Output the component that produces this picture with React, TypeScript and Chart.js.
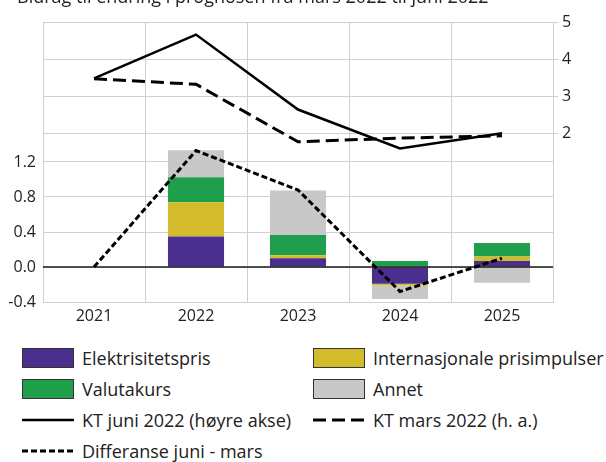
import React, { useEffect, useRef } from 'react';
import { Chart, registerables } from 'chart.js';

Chart.register(...registerables);

const TITLE = 'Bidrag til endring i prognosen fra mars 2022 til juni 2022';
const categories = ['2021', '2022', '2023', '2024', '2025'];
const elektrisitetspris = [null, 0.35, 0.1, -0.19, 0.07];
const internasjonale = [null, 0.39, 0.035, -0.022, 0.05];
const valutakurs = [null, 0.285, 0.23, 0.07, 0.155];
const annet = [null, 0.31, 0.51, -0.155, -0.18];
const ktJuni = [3.48, 4.66, 2.64, 1.59, 2.0];
const ktMars = [3.47, 3.32, 1.77, 1.87, 1.93];
const differanse = [0, 1.33, 0.88, -0.28, 0.1];
const leftTicks = [-0.4, 0, 0.4, 0.8, 1.2];
const rightTicks = [2, 3, 4, 5];

const PURPLE = '#4a2f8e';
const YELLOW = '#d3bb2b';
const GREEN = '#1f9e4c';
const GREY = '#c8c8c8';
const GRID = '#d0d0d0';
const TEXT = '#222222';
const FONT = "'Open Sans', sans-serif";

const zeroLinePlugin = {
  id: 'zeroLine',
  afterDatasetDraw(chart: any, args: any) {
    if (args.index !== 3) return;
    const y = chart.scales.y.getPixelForValue(0);
    const { left, right } = chart.chartArea;
    const ctx = chart.ctx;
    ctx.save();
    ctx.strokeStyle = '#1a1a1a';
    ctx.lineWidth = 1.5;
    ctx.beginPath();
    ctx.moveTo(left, y);
    ctx.lineTo(right, y);
    ctx.stroke();
    ctx.restore();
  },
};

function ChartCanvas() {
  const ref = useRef<HTMLCanvasElement | null>(null);
  useEffect(() => {
    if (!ref.current) return;
    const font = { family: FONT, size: 16 };
    const chart = new Chart(ref.current, {
      type: 'bar',
      data: {
        labels: categories,
        datasets: [
          {
            type: 'line',
            label: 'KT juni 2022 (høyre akse)',
            data: ktJuni,
            yAxisID: 'y1',
            borderColor: '#000',
            borderWidth: 2.5,
            pointRadius: 0,
            tension: 0,
            order: 0,
          },
          {
            type: 'line',
            label: 'KT mars 2022 (h. a.)',
            data: ktMars,
            yAxisID: 'y1',
            borderColor: '#000',
            borderWidth: 3,
            borderDash: [13, 6],
            pointRadius: 0,
            tension: 0,
            order: 0,
          },
          {
            type: 'line',
            label: 'Differanse juni - mars',
            data: differanse,
            yAxisID: 'y',
            stack: 'diff',
            borderColor: '#000',
            borderWidth: 3,
            borderDash: [6, 3],
            pointRadius: 0,
            tension: 0,
            order: 0,
          },
          { label: 'Elektrisitetspris', data: elektrisitetspris, backgroundColor: PURPLE, yAxisID: 'y', stack: 'bars', order: 1 },
          { label: 'Internasjonale prisimpulser', data: internasjonale, backgroundColor: YELLOW, yAxisID: 'y', stack: 'bars', order: 1 },
          { label: 'Valutakurs', data: valutakurs, backgroundColor: GREEN, yAxisID: 'y', stack: 'bars', order: 1 },
          { label: 'Annet', data: annet, backgroundColor: GREY, yAxisID: 'y', stack: 'bars', order: 1 },
        ] as any,
      },
      options: {
        responsive: false,
        animation: false,
        devicePixelRatio: 1,
        datasets: { bar: { barPercentage: 0.55, categoryPercentage: 1 } },
        layout: { padding: { top: 22, left: 0, right: 0, bottom: 0 } },
        plugins: { legend: { display: false }, tooltip: { enabled: false } },
        scales: {
          x: {
            stacked: true,
            grid: { offset: true, color: GRID, drawTicks: false },
            border: { color: GRID },
            ticks: { font, color: TEXT, padding: 5 },
            afterFit: (s: any) => { s.height = 28; },
          },
          y: {
            position: 'left',
            stacked: true,
            min: -0.4,
            max: 2.8,
            afterBuildTicks: (axis: any) => { axis.ticks = leftTicks.map((v) => ({ value: v })); },
            ticks: { font, color: TEXT, padding: 7, callback: (v: any) => Number(v).toFixed(1) },
            grid: { drawTicks: false, color: GRID },
            border: { color: GRID },
            afterFit: (s: any) => { s.width = 43; },
          },
          y1: {
            position: 'right',
            min: -2.55,
            max: 5,
            afterBuildTicks: (axis: any) => { axis.ticks = rightTicks.map((v) => ({ value: v })); },
            ticks: { font, color: TEXT, padding: 4, callback: (v: any) => String(v) },
            grid: { color: GRID, tickLength: 5 },
            border: { color: GRID },
            afterFit: (s: any) => { s.width = 53; },
          },
        },
      } as any,
      plugins: [zeroLinePlugin],
    });
    return () => chart.destroy();
  }, []);
  return <canvas ref={ref} width={606} height={330} style={{ position: 'absolute', left: 0, top: 0, width: 606, height: 330 }} />;
}

const legendText: React.CSSProperties = {
  position: 'absolute',
  fontFamily: FONT,
  fontSize: 18,
  lineHeight: '24px',
  color: TEXT,
  whiteSpace: 'nowrap',
};

function Box({ x, cy, color }: { x: number; cy: number; color: string }) {
  return (
    <div
      style={{
        position: 'absolute',
        left: x,
        top: cy - 10,
        width: 50,
        height: 18,
        background: color,
        border: '1px solid #333',
      }}
    />
  );
}

function LineSample({ x, cy, dash, width }: { x: number; cy: number; dash?: string; width: number }) {
  return (
    <svg style={{ position: 'absolute', left: x, top: cy - 5 }} width={54} height={10}>
      <line x1={0} y1={5} x2={52} y2={5} stroke="#000" strokeWidth={width} strokeDasharray={dash} />
    </svg>
  );
}

function Label({ x, cy, text }: { x: number; cy: number; text: string }) {
  return <div style={{ ...legendText, left: x, top: cy - 12 }}>{text}</div>;
}

export default function App() {
  useEffect(() => {
    document.body.style.margin = '0';
  }, []);
  const r1 = 358;
  const r2 = 389;
  const r3 = 420;
  const r4 = 451;
  return (
    <div style={{ position: 'absolute', left: 0, top: 0, width: 606, height: 462, overflow: 'hidden', background: '#fff' }}>
      <ChartCanvas />
      <div
        style={{
          position: 'absolute',
          left: 17,
          top: -13.5,
          fontFamily: FONT,
          fontSize: 18,
          lineHeight: '18px',
          color: TEXT,
          whiteSpace: 'nowrap',
        }}
      >
        {TITLE}
      </div>
      <Box x={22} cy={r1} color={PURPLE} />
      <Label x={82} cy={r1} text="Elektrisitetspris" />
      <Box x={313} cy={r1} color={YELLOW} />
      <Label x={373} cy={r1} text="Internasjonale prisimpulser" />
      <Box x={22} cy={r2} color={GREEN} />
      <Label x={82} cy={r2} text="Valutakurs" />
      <Box x={313} cy={r2} color={GREY} />
      <Label x={373} cy={r2} text="Annet" />
      <LineSample x={22} cy={r3} width={2.5} />
      <Label x={82} cy={r3} text="KT juni 2022 (høyre akse)" />
      <LineSample x={313} cy={r3} width={3} dash="13 6" />
      <Label x={373} cy={r3} text="KT mars 2022 (h. a.)" />
      <LineSample x={22} cy={r4} width={3} dash="6 3" />
      <Label x={82} cy={r4} text="Differanse juni - mars" />
    </div>
  );
}
